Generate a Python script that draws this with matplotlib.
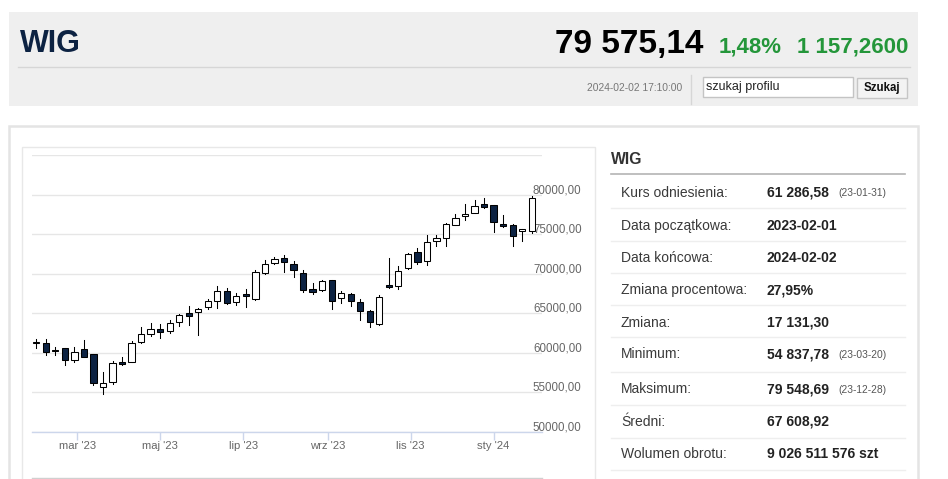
import matplotlib
matplotlib.use('Agg')
import matplotlib.pyplot as plt
import matplotlib.dates as mdates
from matplotlib.patches import Rectangle
from matplotlib.transforms import ScaledTranslation
import pandas as pd

plt.rcParams['font.family'] = ['Liberation Sans', 'DejaVu Sans']

# weekly candles of WIG, 2023-02-01 .. 2024-02-02
weeks = pd.date_range('2023-01-30', periods=53, freq='7D')
opens = [61290, 61240, 60300, 60590, 59110, 60500, 59830, 55740, 56370, 58900,
         58820, 61430, 62360, 63000, 62820, 63890, 65020, 65100, 65780, 66490,
         67760, 66420, 67500, 66830, 70090, 71350, 71980, 71270, 70090, 68060,
         67970, 69150, 66920, 67420, 66420, 65350, 63670, 68520, 68400, 70720,
         72740, 71640, 74180, 74520, 76200, 77300, 77720, 78860, 78650, 76290,
         76200, 75350, 75350]
highs = [61770, 61770, 60720, 60600, 60720, 61640, 59850, 57630, 58990, 59530,
         61550, 63250, 63830, 63670, 64090, 64900, 65860, 65660, 66800, 68480,
         68190, 67550, 68060, 70420, 71770, 72110, 72400, 71560, 70500, 68820,
         69150, 69200, 67760, 67550, 66800, 65400, 67340, 71980, 70920, 72620,
         73250, 74940, 74940, 76420, 77600, 78860, 79370, 79549, 78700, 77470,
         76250, 75700, 79870]
lows = [60630, 59740, 59740, 58480, 58900, 59450, 55950, 54838, 56070, 58500,
        58800, 61300, 62150, 61860, 62570, 63420, 63540, 62280, 65530, 65660,
        66200, 66070, 65780, 66700, 69950, 71270, 70210, 69580, 67630, 67470,
        67760, 65530, 66290, 65980, 64090, 63250, 63540, 68250, 68060, 70600,
        71270, 71140, 73460, 73460, 76110, 76840, 77630, 78320, 75280, 75860,
        73540, 74180, 75150]
closes = [61430, 60050, 60250, 59110, 60160, 59530, 56240, 56180, 58690, 58570,
          61300, 62360, 63000, 62660, 63750, 64810, 64720, 65570, 66580, 67760,
          66290, 67210, 67210, 70250, 71230, 71900, 71430, 70420, 67970, 67630,
          69030, 66490, 67550, 66490, 65310, 63890, 67040, 68270, 70290, 72450,
          71430, 74010, 74520, 76290, 77050, 77560, 78570, 78390, 76490, 76080,
          74720, 75650, 79575]

y_ticks = [50000, 55000, 60000, 65000, 70000, 75000, 80000, 85000]
y_labels = ['50000,00', '55000,00', '60000,00', '65000,00', '70000,00',
            '75000,00', '80000,00', '']
x_tick_dates = ['2023-03-01', '2023-05-01', '2023-07-01', '2023-09-01',
                '2023-11-01', '2024-01-01']
x_tick_labels = ["mar '23", "maj '23", "lip '23", "wrz '23", "lis '23", "sty '24"]

stat_labels = ['Kurs odniesienia:', 'Data początkowa:', 'Data końcowa:',
               'Zmiana procentowa:', 'Zmiana:', 'Minimum:', 'Maksimum:',
               'Średni:', 'Wolumen obrotu:']
stat_values = ['61 286,58', '2023-02-01', '2024-02-02', '27,95%', '17 131,30',
               '54 837,78', '79 548,69', '67 608,92', '9 026 511 576 szt']
stat_notes = ['(23-01-31)', '', '', '', '', '(23-03-20)', '(23-12-28)', '', '']

DARK = '#0c2242'
GREEN = '#24963a'

fig = plt.figure(figsize=(9.48, 4.79), dpi=100)

# page background drawn in pixel coordinates
bg = fig.add_axes([0, 0, 1, 1])
bg.set_xlim(0, 948)
bg.set_ylim(479, 0)
bg.axis('off')


def box(x0, y0, x1, y1, **kw):
    bg.add_patch(Rectangle((x0, y0), x1 - x0, y1 - y0, **kw))


# header
box(9, 12, 918, 106, facecolor='#efefef', edgecolor='none')
bg.plot([18, 910], [67.3, 67.3], color='#d6d6d6', lw=1)
bg.text(20, 52, 'WIG', fontsize=22, fontweight='bold', color=DARK,
        va='baseline')
bg.text(703, 53, '79 575,14', fontsize=24, fontweight='bold', color='black',
        ha='right', va='baseline')
bg.text(719, 52, '1,48%', fontsize=16, fontweight='bold', color=GREEN,
        va='baseline')
bg.text(908, 52, '1 157,2600', fontsize=16, fontweight='bold', color=GREEN,
        ha='right', va='baseline')
bg.text(682, 87.5, '2024-02-02 17:10:00', fontsize=7.4, color='#777777',
        ha='right', va='center')
bg.plot([691.5, 691.5], [75, 104], color='#d6d6d6', lw=1)
box(703, 77, 853, 96.5, facecolor='white', edgecolor='#c4c4c4', lw=1)
bg.text(706, 87, 'szukaj profilu', fontsize=9, color='#222222', va='center')
box(857, 77.5, 907, 98, facecolor='#f3f3f3', edgecolor='#c6c6c6', lw=1)
bg.text(882, 88, 'Szukaj', fontsize=8.3, fontweight='bold', color='#111111',
        ha='center', va='center')

# lower panel and chart frame
box(9, 125.5, 918, 500, facecolor='white', edgecolor='#e4e4e4', lw=1.8)
box(22, 146.5, 595, 500, facecolor='white', edgecolor='#e8e8e8', lw=1)
bg.plot([32, 542], [478, 478], color='#d0d0d0', lw=1)

# stats table
bg.text(611, 163.5, 'WIG', fontsize=11.3, fontweight='bold', color='#333333',
        va='baseline')
bg.plot([611, 905], [174.3, 174.3], color='#b4b4b4', lw=1.2)
row_y = [191.7, 225, 256.7, 289.3, 321.7, 353.3, 388.3, 421, 453.3]
sep_y = [208.3, 240.7, 272.7, 305, 337.3, 371.7, 405, 438.3, 470]
for yy in sep_y:
    bg.plot([611, 905], [yy, yy], color='#eeeeee', lw=1)
for yy, lab, val, note in zip(row_y, stat_labels, stat_values, stat_notes):
    bg.text(621, yy + 5, lab, fontsize=10, color='#3a3a3a', va='baseline')
    bg.text(767, yy + 5, val, fontsize=10, fontweight='bold', color='#222222',
            va='baseline')
    if note:
        bg.text(838, yy + 4.5, note, fontsize=7.4, color='#555555',
                va='baseline')

# candlestick chart
ax = fig.add_axes([32 / 948, (479 - 432) / 479, 510 / 948, 277 / 479])
ax.set_facecolor('white')
x = mdates.date2num(weeks)
body_w = 4.6
for xi, o, h, l, c in zip(x, opens, highs, lows, closes):
    ax.plot([xi, xi], [l, h], color='black', lw=0.75, zorder=2)
    fill = 'white' if c >= o else DARK
    ax.add_patch(Rectangle((xi - body_w / 2, min(o, c)), body_w, abs(c - o),
                           facecolor=fill, edgecolor='black', lw=0.75,
                           zorder=3))

ax.set_xlim(x[0] - 3.16, x[-1] + 7.57)
ax.set_ylim(50000, 85000)
ax.set_yticks(y_ticks)
ax.set_yticklabels(y_labels)
ax.yaxis.tick_right()
ax.tick_params(axis='y', length=0, pad=-6.5, labelsize=8.3,
               labelcolor='#666666')
shift = ScaledTranslation(0, 6 / 100, fig.dpi_scale_trans)
for lbl in ax.get_yticklabels():
    lbl.set_transform(lbl.get_transform() + shift)

ax.set_xticks(mdates.date2num(pd.to_datetime(x_tick_dates)))
ax.set_xticklabels(x_tick_labels)
ax.tick_params(axis='x', length=5.8, width=1, color='#ccd6eb', pad=0.5,
               labelsize=8.1, labelcolor='#666666')

ax.yaxis.grid(True, color='#e6e6e6', lw=1)
ax.set_axisbelow(True)
for side in ['top', 'left', 'right']:
    ax.spines[side].set_visible(False)
ax.spines['bottom'].set_color('#ccd6eb')
ax.spines['bottom'].set_linewidth(1)

fig.savefig('out.png', dpi=100)
